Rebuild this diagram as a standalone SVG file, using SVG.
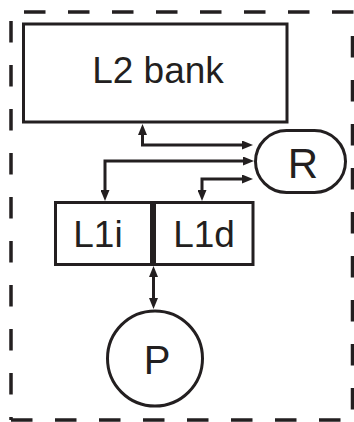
<svg xmlns="http://www.w3.org/2000/svg" width="354" height="422" viewBox="0 0 354 422">
<style>
.b{fill:#fff;stroke:#231f20;stroke-width:3}
.t{font-family:"Liberation Sans",Arial,sans-serif;fill:#231f20;text-anchor:middle}
.c{fill:none;stroke:#231f20;stroke-width:3;marker-start:url(#ah);marker-end:url(#ah)}
.d{fill:none;stroke:#231f20;stroke-width:3.5;stroke-dasharray:21.5 22.5}
</style>
<defs>
<marker id="ah" viewBox="0 0 11 9" refX="6" refY="4.5" markerWidth="11" markerHeight="9" markerUnits="userSpaceOnUse" orient="auto-start-reverse">
<path d="M0,0 L11,4.5 L0,9 z" fill="#231f20"/>
</marker>
</defs>
<rect width="354" height="422" fill="#fff"/>
<g id="border">
<line class="d" x1="24" y1="12" x2="360" y2="12"/>
<line class="d" x1="11" y1="21" x2="11" y2="420"/>
<line class="d" x1="11" y1="420" x2="360" y2="420"/>
<line class="d" x1="352.5" y1="36" x2="352.5" y2="420"/>
</g>
<g id="connectors">
<path class="c" d="M142.5,129 V145 H248"/>
<path class="c" d="M249,161 H105 V196"/>
<path class="c" d="M248,179 H202 V196"/>
<path class="c" d="M153.5,271 V304"/>
</g>
<g id="l2">
<rect class="b" x="23.5" y="24" width="263.5" height="98"/>
<text class="t" x="158" y="83.3" font-size="37">L2 bank</text>
</g>
<g id="r">
<rect class="b" x="255.5" y="130.5" width="90" height="62" rx="31"/>
<text class="t" x="303" y="178.3" font-size="42">R</text>
</g>
<g id="l1i">
<rect class="b" x="55.5" y="202.5" width="96" height="62"/>
<text class="t" x="98" y="246.7" font-size="37">L1i</text>
</g>
<g id="l1d">
<rect class="b" x="154.5" y="202.5" width="98.5" height="62"/>
<text class="t" x="204" y="246.7" font-size="37">L1d</text>
</g>
<g id="p">
<circle class="b" cx="155" cy="358.5" r="47.5"/>
<text class="t" x="157" y="374.3" font-size="40">P</text>
</g>
</svg>
